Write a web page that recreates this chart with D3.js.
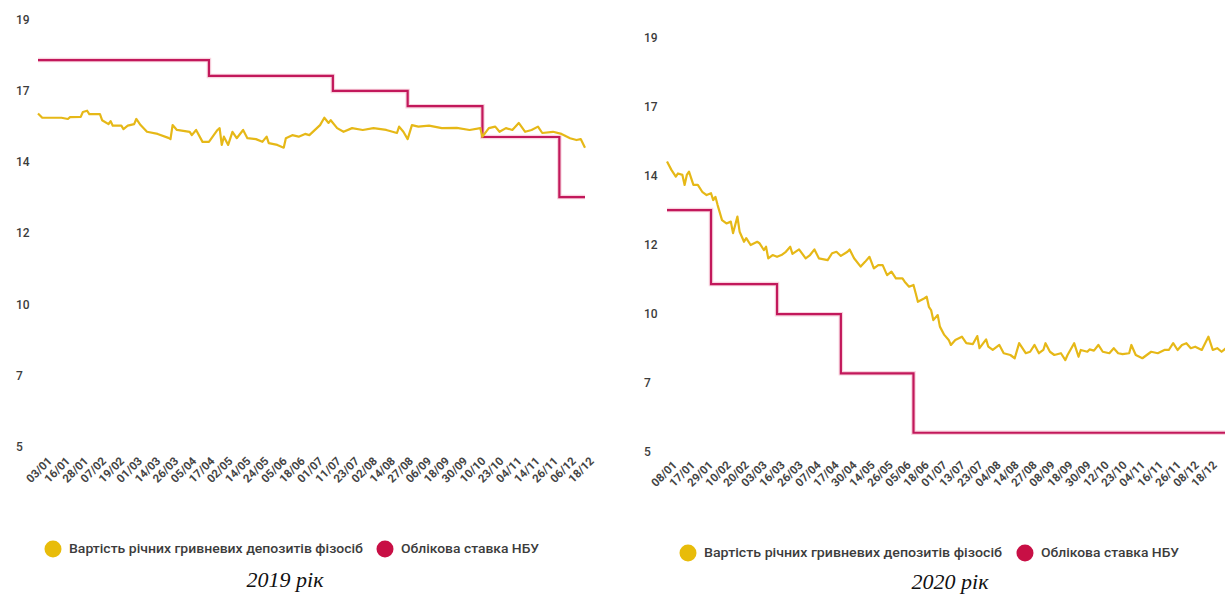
<!DOCTYPE html>
<html>
<head>
<meta charset="utf-8">
<script src="https://cdn.jsdelivr.net/npm/d3@7"></script>
<style>
  html, body { margin: 0; padding: 0; background: #fff; }
  svg { display: block; }
</style>
</head>
<body>
<svg id="chart" width="1225" height="596"></svg>
<script>
// ---------- DATA ----------
const seriesNames = ["Вартість річних гривневих депозитів фізосіб", "Облікова ставка НБУ"];
const captions = ["2019 рік", "2020 рік"];

const xLabels2019 = ["03/01","16/01","28/01","07/02","19/02","01/03","14/03","26/03","05/04","17/04","02/05","14/05","24/05","05/06","18/06","01/07","11/07","23/07","02/08","14/08","27/08","06/09","18/09","30/09","10/10","23/10","04/11","14/11","26/11","06/12","18/12"];
const xLabels2020 = ["08/01","17/01","29/01","10/02","20/02","03/03","16/03","26/03","07/04","17/04","30/04","14/05","26/05","05/06","18/06","01/07","13/07","23/07","04/08","14/08","27/08","08/09","18/09","30/09","12/10","23/10","04/11","16/11","26/11","08/12","18/12"];

// y-axis: 7 evenly spaced ticks between 5 and 19, labels rounded
const yTickLabels = ["5","7","10","12","14","17","19"];

// deposit rates (business-day index, %)
const dep2019Day = [0,2,11,14,15,20,21,23,24,29,30,33,34,35,39,40,42,45,46,48,51,56,61,62,63,65,71,72,74,77,80,84,85,86,87,89,91,93,96,98,102,105,107,108,112,115,116,119,122,125,127,132,134,136,137,140,143,147,152,157,163,168,169,171,173,175,178,183,189,196,202,207,208,211,214,216,219,222,225,228,231,234,236,241,245,249,252,254,256];
const dep2019Val = [15.92,15.78,15.78,15.74,15.80,15.81,15.97,16.01,15.90,15.90,15.70,15.57,15.67,15.52,15.52,15.41,15.52,15.57,15.74,15.54,15.32,15.25,15.12,15.08,15.54,15.38,15.32,15.21,15.38,14.99,14.99,15.38,15.44,14.89,15.16,14.89,15.32,15.11,15.38,15.11,15.08,14.99,15.16,14.95,14.89,14.80,15.11,15.21,15.16,15.25,15.21,15.54,15.78,15.61,15.70,15.44,15.32,15.44,15.38,15.44,15.38,15.28,15.49,15.32,15.08,15.54,15.49,15.52,15.44,15.45,15.38,15.44,15.16,15.44,15.49,15.32,15.44,15.38,15.61,15.32,15.38,15.49,15.28,15.32,15.25,15.11,15.05,15.08,14.80];

const dep2020Day = [0,2,4,5,7,8,9,10,12,14,16,18,20,21,22,23,25,27,29,30,32,33,35,36,38,41,42,44,45,46,48,50,52,54,56,57,60,63,65,67,69,73,75,77,79,82,83,85,88,90,92,94,96,98,100,102,104,107,108,110,112,113,114,117,118,119,120,121,123,124,126,128,129,131,134,136,139,141,142,145,146,148,151,153,156,158,160,163,165,167,169,171,172,174,176,179,181,182,185,187,188,191,192,194,196,198,201,203,205,207,210,211,213,216,220,223,226,228,230,232,234,236,238,240,243,246,248,250,252,254];
const dep2020Val = [14.81,14.53,14.30,14.41,14.36,14.02,14.36,14.47,14.02,14.02,13.79,13.68,13.74,13.51,13.62,13.34,12.83,12.72,12.78,12.39,12.95,12.44,12.10,12.22,11.99,12.10,12.05,11.82,11.93,11.54,11.65,11.59,11.65,11.76,11.93,11.69,11.84,11.54,11.65,11.84,11.54,11.48,11.71,11.76,11.62,11.76,11.84,11.54,11.26,11.42,11.59,11.20,11.31,11.31,10.97,11.09,10.86,10.86,10.75,10.58,10.64,10.36,10.07,10.19,10.24,9.90,9.79,9.45,9.62,9.23,8.95,8.78,8.61,8.78,8.89,8.67,8.64,8.91,8.50,8.80,8.55,8.44,8.61,8.33,8.27,8.16,8.67,8.33,8.38,8.61,8.33,8.44,8.67,8.38,8.27,8.33,8.10,8.27,8.67,8.21,8.44,8.38,8.46,8.42,8.61,8.38,8.33,8.50,8.33,8.30,8.33,8.61,8.27,8.16,8.38,8.33,8.44,8.44,8.67,8.44,8.61,8.67,8.50,8.55,8.44,8.89,8.44,8.50,8.38,8.50];

// NBU key rate (step changes)
const rate2019Day = [0, 80, 138, 173, 208, 244, 256];
const rate2019Val = [17.67, 17.15, 16.66, 16.16, 15.15, 13.18, 13.18];
const rate2020Day = [0, 20, 50, 79, 112, 262];
const rate2020Val = [13.17, 10.67, 9.65, 7.65, 5.64, 5.64];

// ---------- DRAW ----------
const svg = d3.select("#chart");
svg.append("rect").attr("width",1225).attr("height",596).attr("fill","#fff");

const YELLOW = "#E6B817";
const RED = "#C2185B";
const LEG_Y = "#E8BC0A";
const LEG_R = "#C80F45";
const TXT = "#3c3c3c";

function panel(cfg) {
  const g = svg.append("g");
  const x = d3.scaleLinear().domain([0, cfg.xMax]).range([cfg.x0, cfg.x1]);
  const y = d3.scaleLinear().domain([5, 19]).range([cfg.yBottom, cfg.yTop]);
  const tickVals = d3.range(7).map(i => 5 + i * 14 / 6);

  // y tick labels
  g.selectAll("text.ytick").data(tickVals).join("text")
    .attr("class","ytick")
    .attr("x", cfg.yLabelX)
    .attr("y", d => y(d))
    .attr("dy","0.35em")
    .attr("font-family","Roboto, 'Noto Sans', sans-serif")
    .attr("font-size", 12)
    .attr("font-weight", 500)
    .attr("fill", TXT)
    .text((d,i) => yTickLabels[i]);

  // x labels
  const xl = d3.scalePoint().domain(cfg.labels).range([cfg.lab0, cfg.lab1]);
  g.selectAll("text.xtick").data(cfg.labels).join("text")
    .attr("class","xtick")
    .attr("transform", d => `translate(${xl(d)},${cfg.labY}) rotate(-45)`)
    .attr("text-anchor","end")
    .attr("dy","0.7em")
    .attr("font-family","Roboto, 'Noto Sans', sans-serif")
    .attr("font-size", 11.5)
    .attr("font-weight", 700)
    .attr("fill", "#444")
    .text(d => d);

  // lines
  const dep = cfg.depDay.map((d,i) => [d, cfg.depVal[i]]);
  const rate = cfg.rateDay.map((d,i) => [d, cfg.rateVal[i]]);

  g.append("path")
    .attr("d", d3.line().x(d => x(d[0])).y(d => y(d[1])).curve(d3.curveStepAfter)(rate))
    .attr("fill","none").attr("stroke","#f3b6c8").attr("stroke-width",4.5).attr("opacity",0.6);
  g.append("path")
    .attr("d", d3.line().x(d => x(d[0])).y(d => y(d[1])).curve(d3.curveStepAfter)(rate))
    .attr("fill","none").attr("stroke",RED).attr("stroke-width",2.2);

  g.append("path")
    .attr("d", d3.line().x(d => x(d[0])).y(d => y(d[1]))(dep))
    .attr("fill","none").attr("stroke",YELLOW).attr("stroke-width",2.2).attr("stroke-linejoin","round");

  // legend
  const lg = g.append("g").attr("transform", `translate(${cfg.legX},${cfg.legY})`);
  lg.append("circle").attr("cx",0).attr("cy",0).attr("r",8.5).attr("fill",LEG_Y);
  lg.append("text").attr("x",16).attr("y",0).attr("dy","0.35em")
    .attr("font-family","Roboto, 'Noto Sans', sans-serif").attr("font-size",12).attr("font-weight",500)
    .attr("fill",TXT).attr("textLength", cfg.leg1W).attr("lengthAdjust","spacingAndGlyphs")
    .text(seriesNames[0]);
  lg.append("circle").attr("cx",cfg.leg2X).attr("cy",0).attr("r",8.5).attr("fill",LEG_R);
  lg.append("text").attr("x",cfg.leg2X+16).attr("y",0).attr("dy","0.35em")
    .attr("font-family","Roboto, 'Noto Sans', sans-serif").attr("font-size",12).attr("font-weight",500)
    .attr("fill",TXT).attr("textLength", cfg.leg2W).attr("lengthAdjust","spacingAndGlyphs")
    .text(seriesNames[1]);

  // caption
  g.append("text").attr("x",cfg.capX).attr("y",cfg.capY).attr("text-anchor","middle")
    .attr("font-family","'Liberation Serif', 'Times New Roman', serif")
    .attr("font-style","italic").attr("font-size",22).attr("fill","#111")
    .text(cfg.caption);
}

panel({
  x0: 38, x1: 585, xMax: 256, yTop: 19.5, yBottom: 446.7, yLabelX: 16,
  labels: xLabels2019, lab0: 47, lab1: 589, labY: 456,
  depDay: dep2019Day, depVal: dep2019Val, rateDay: rate2019Day, rateVal: rate2019Val,
  legX: 53, legY: 549, leg1W: 294, leg2X: 332, leg2W: 138,
  capX: 285, capY: 587, caption: captions[0]
});

panel({
  x0: 667, x1: 1226, xMax: 254, yTop: 37.7, yBottom: 451.7, yLabelX: 644,
  labels: xLabels2020, lab0: 672, lab1: 1212, labY: 460,
  depDay: dep2020Day, depVal: dep2020Val, rateDay: rate2020Day, rateVal: rate2020Val,
  legX: 688, legY: 553, leg1W: 298, leg2X: 337, leg2W: 138,
  capX: 950, capY: 589, caption: captions[1]
});
</script>
</body>
</html>
